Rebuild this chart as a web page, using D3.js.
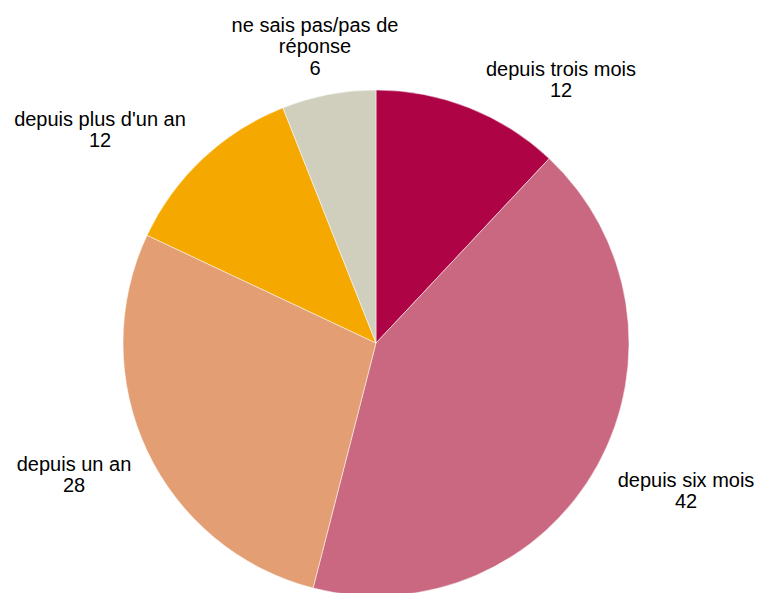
<!DOCTYPE html>
<html>
<head>
<meta charset="utf-8">
<script src="https://cdn.jsdelivr.net/npm/d3@7"></script>
<style>
  body { margin: 0; background: #fff; }
  text { font-family: "Liberation Sans", Arial, sans-serif; fill: #000; }
</style>
</head>
<body>
<div id="chart"></div>
<script>
const categories = ["depuis trois mois", "depuis six mois", "depuis un an", "depuis plus d'un an", "ne sais pas/pas de réponse"];
const values = [12, 42, 28, 12, 6];
const colors = ["#AE0446", "#C96880", "#E39F73", "#F5A800", "#D0CFBD"];
// label lines and baseline position of the first line of each label
const labelLines = [["depuis trois mois"], ["depuis six mois"], ["depuis un an"], ["depuis plus d'un an"], ["ne sais pas/pas de", "réponse"]];
const labelPos = [[561, 76], [686, 487], [74, 471], [100, 126], [315, 32]];

const width = 759, height = 593;
const cx = 376, cy = 343, radius = 253;

const svg = d3.select("#chart").append("svg")
    .attr("width", width)
    .attr("height", height);

const data = categories.map((c, i) => ({ name: c, value: values[i], color: colors[i], lines: labelLines[i], pos: labelPos[i] }));

const pie = d3.pie().sort(null).value(d => d.value);
const arc = d3.arc().innerRadius(0).outerRadius(radius);

const g = svg.append("g").attr("transform", `translate(${cx},${cy})`);

g.selectAll("path")
    .data(pie(data))
    .enter()
    .append("path")
    .attr("d", arc)
    .attr("fill", d => d.data.color)
    .attr("stroke", "#fff")
    .attr("stroke-width", 0.5);

const lineH = 21.3;
const labels = svg.selectAll("text.lbl")
    .data(data)
    .enter()
    .append("text")
    .attr("class", "lbl")
    .attr("text-anchor", "middle")
    .style("font-size", "20px");

labels.each(function(d) {
    const t = d3.select(this);
    const all = d.lines.concat([String(d.value)]);
    all.forEach((s, i) => {
        t.append("tspan")
            .attr("x", d.pos[0])
            .attr("y", d.pos[1] + i * lineH)
            .text(s);
    });
});
</script>
</body>
</html>
